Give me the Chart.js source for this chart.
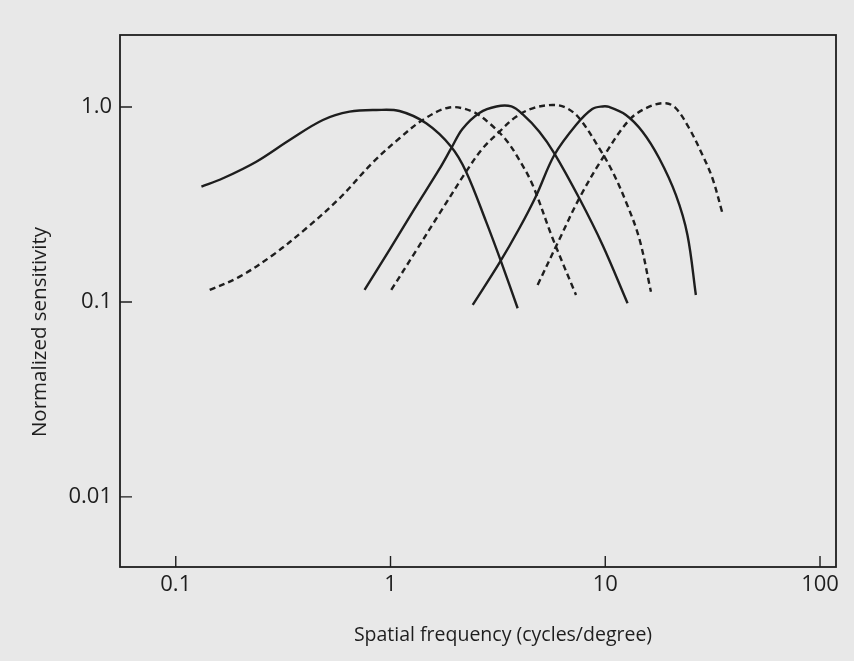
<!DOCTYPE html>
<html>
<head>
<meta charset="utf-8">
<script src="https://cdn.jsdelivr.net/npm/chart.js@4.4.0/dist/chart.umd.min.js"></script>
<style>
  html, body { margin: 0; padding: 0; background: #e8e8e8; }
  #wrap { width: 854px; height: 661px; }
</style>
</head>
<body>
<div id="wrap"><canvas id="c" width="854" height="661"></canvas></div>
<script>
// Оси
const xTicks = [0.1, 1, 10, 100];
const xTickLabels = ['0.1', '1', '10', '100'];
const yTicks = [0.01, 0.1, 1];
const yTickLabels = ['0.01', '0.1', '1.0'];
const xTitle = 'Spatial frequency (cycles/degree)';
const yTitle = 'Normalized sensitivity';

// Кривые (частота, чувствительность)
const c1Freq = [0.1317, 0.166, 0.2372, 0.339, 0.4843, 0.6449, 0.8581, 1.101, 1.466, 1.916, 2.249, 2.787, 3.273, 3.909];
const c1Sens = [0.3902, 0.4309, 0.5242, 0.6773, 0.8577, 0.946, 0.9652, 0.9539, 0.825, 0.6258, 0.4658, 0.2581, 0.1609, 0.0928];

const c2Freq = [0.1439, 0.1984, 0.2836, 0.4054, 0.579, 0.8274, 1.101, 1.413, 1.881, 2.414, 2.887, 3.452, 3.981, 4.591, 5.686, 7.307];
const c2Sens = [0.1152, 0.1348, 0.1742, 0.2387, 0.3402, 0.5193, 0.691, 0.8577, 0.9941, 0.946, 0.825, 0.6773, 0.535, 0.3981, 0.2122, 0.1086];

const c3Freq = [0.757, 0.989, 1.293, 1.69, 1.921, 2.162, 2.594, 3.112, 3.655, 4.155, 4.932, 5.792, 7.569, 9.714, 12.7];
const c3Sens = [0.1152, 0.1848, 0.2998, 0.4808, 0.6163, 0.7712, 0.9316, 1.006, 1.006, 0.91, 0.7468, 0.5788, 0.3402, 0.196, 0.0985];

const c4Freq = [1.008, 1.317, 1.721, 2.249, 2.688, 3.214, 3.843, 4.591, 5.686, 6.565, 7.569, 9.378, 10.81, 12.48, 14.39, 16.32];
const c4Sens = [0.1152, 0.1836, 0.2929, 0.4658, 0.6141, 0.7468, 0.8917, 0.9848, 1.024, 0.9918, 0.8751, 0.6141, 0.4658, 0.3268, 0.2122, 0.1129];

const c5Freq = [2.414, 3.214, 3.981, 4.762, 5.792, 7.307, 8.70, 9.714, 10.43, 12.48, 14.91, 17.83, 21.32, 24.14, 26.42];
const c5Sens = [0.0965, 0.1585, 0.2387, 0.3497, 0.5674, 0.8085, 0.9766, 1.006, 1.0, 0.9099, 0.7468, 0.5457, 0.3538, 0.2206, 0.1086];

const c6Freq = [4.843, 6.045, 7.569, 9.714, 12.93, 16.02, 19.16, 21.32, 24.59, 28.36, 31.56, 35.13];
const c6Sens = [0.1223, 0.204, 0.3402, 0.5457, 0.8577, 1.004, 1.045, 0.9848, 0.7776, 0.5674, 0.4309, 0.285];

const INK = '#1e1e1e';
const FONT = '"Open Sans", "Noto Sans", sans-serif';

const toPoints = (fx, sy) => fx.map((f, i) => ({ x: f, y: sy[i] }));

function curve(fx, sy, dashed) {
  return {
    data: toPoints(fx, sy),
    borderColor: INK,
    borderWidth: 2.4,
    borderDash: dashed ? [6, 4] : [],
    pointRadius: 0,
    tension: 0.35,
    fill: false
  };
}

// Рамка, внутренние засечки и подписи осей
const frameTicks = {
  id: 'frameTicks',
  afterDraw(chart) {
    const { ctx, chartArea: a, scales } = chart;
    ctx.save();
    ctx.strokeStyle = INK;
    ctx.lineWidth = 1.8;
    ctx.strokeRect(a.left, a.top, a.right - a.left, a.bottom - a.top);
    ctx.lineWidth = 1.4;
    ctx.beginPath();
    xTicks.forEach(v => {
      const px = scales.x.getPixelForValue(v);
      ctx.moveTo(px, a.bottom);
      ctx.lineTo(px, a.bottom - 11);
    });
    yTicks.forEach(v => {
      const py = scales.y.getPixelForValue(v);
      ctx.moveTo(a.left, py);
      ctx.lineTo(a.left + 12, py);
    });
    ctx.stroke();

    // подписи осей немного смещены от центра, как в оригинале
    ctx.fillStyle = INK;
    ctx.textAlign = 'center';
    ctx.textBaseline = 'middle';
    ctx.font = '19.5px ' + FONT;
    ctx.fillText(xTitle, (a.left + a.right) / 2 + 25, a.bottom + 68);
    ctx.font = '20.5px ' + FONT;
    ctx.translate(40, (a.top + a.bottom) / 2 + 31);
    ctx.rotate(-Math.PI / 2);
    ctx.fillText(yTitle, 0, 0);
    ctx.restore();
  }
};

new Chart(document.getElementById('c'), {
  type: 'line',
  data: {
    datasets: [
      curve(c1Freq, c1Sens, false),
      curve(c2Freq, c2Sens, true),
      curve(c3Freq, c3Sens, false),
      curve(c4Freq, c4Sens, true),
      curve(c5Freq, c5Sens, false),
      curve(c6Freq, c6Sens, true)
    ]
  },
  options: {
    responsive: false,
    animation: false,
    devicePixelRatio: 1,
    layout: { padding: { top: 35, right: 18, left: 0, bottom: 0 } },
    plugins: { legend: { display: false }, tooltip: { enabled: false } },
    scales: {
      x: {
        type: 'logarithmic',
        min: 0.055,
        max: 118.7,
        grid: { display: false, drawTicks: false },
        border: { display: false },
        afterBuildTicks: s => { s.ticks = xTicks.map(v => ({ value: v })); },
        afterFit: s => { s.height = 94; },
        ticks: {
          autoSkip: false,
          maxRotation: 0,
          padding: 5,
          color: INK,
          font: { family: FONT, size: 22 },
          callback: (v, i) => xTickLabels[i]
        }
      },
      y: {
        type: 'logarithmic',
        min: 0.00437,
        max: 2.34,
        grid: { display: false, drawTicks: false },
        border: { display: false },
        afterBuildTicks: s => { s.ticks = yTicks.map(v => ({ value: v })); },
        afterFit: s => { s.width = 120; },
        ticks: {
          autoSkip: false,
          padding: 8,
          color: INK,
          font: { family: FONT, size: 22 },
          callback: (v, i) => yTickLabels[i]
        }
      }
    }
  },
  plugins: [frameTicks]
});
</script>
</body>
</html>
